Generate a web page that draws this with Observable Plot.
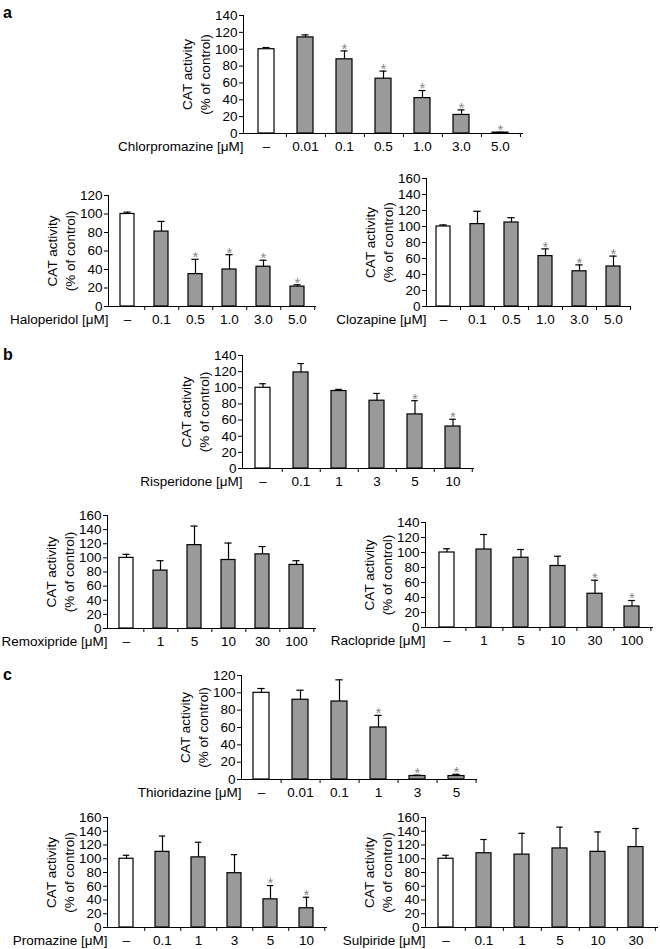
<!DOCTYPE html>
<html><head><meta charset="utf-8">
<script src="https://cdn.jsdelivr.net/npm/d3@7"></script>
<script src="https://cdn.jsdelivr.net/npm/@observablehq/plot@0.6"></script>
<style>
body{margin:0;background:#fff;}
#fig{position:relative;width:660px;height:949px;overflow:hidden;font-family:"Liberation Sans",Arial,sans-serif;background:#fff;}
.panel{position:absolute;}
.letter{position:absolute;font-weight:bold;font-size:16px;line-height:16px;font-family:"Liberation Sans",Arial,sans-serif;}
</style></head><body><div id="fig"></div>
<script>
// ---------- data ----------
const yTitle = "CAT activity\n(% of control)";

const chlorpromazineDoses = ["–","0.01","0.1","0.5","1.0","3.0","5.0"];
const chlorpromazineMean  = [100,114,88,65,42,22,1];
const chlorpromazineSD    = [2,3,10,9,9,6,0.5];
const chlorpromazineSig   = [0,0,1,1,1,1,1];

const haloperidolDoses = ["–","0.1","0.5","1.0","3.0","5.0"];
const haloperidolMean  = [100,81,35,40,43,21.5];
const haloperidolSD    = [2,11,16,16,7,2];
const haloperidolSig   = [0,0,1,1,1,1];

const clozapineDoses = ["–","0.1","0.5","1.0","3.0","5.0"];
const clozapineMean  = [100,103,105,63,44,50];
const clozapineSD    = [2,16,6,9,8,13];
const clozapineSig   = [0,0,0,1,1,1];

const risperidoneDoses = ["–","0.1","1","3","5","10"];
const risperidoneMean  = [100,119,96,84,67,52];
const risperidoneSD    = [5,11,2,9,17,9];
const risperidoneSig   = [0,0,0,0,1,1];

const remoxiprideDoses = ["–","1","5","10","30","100"];
const remoxiprideMean  = [100,82,118,97,105,90];
const remoxiprideSD    = [5,14,27,24,11,6];
const remoxiprideSig   = [0,0,0,0,0,0];

const raclopridesDoses = ["–","1","5","10","30","100"];
const raclopridesMean  = [100,104,93,82,45,28];
const raclopridesSD    = [5,20,11,13,18,8];
const raclopridesSig   = [0,0,0,0,1,1];

const thioridazineDoses = ["–","0.01","0.1","1","3","5"];
const thioridazineMean  = [100,92,90,60,4,4];
const thioridazineSD    = [5,11,25,14,1,2];
const thioridazineSig   = [0,0,0,1,1,1];

const promazineDoses = ["–","0.1","1","3","5","10"];
const promazineMean  = [100,110,102,79,41,28];
const promazineSD    = [5,23,22,27,20,16];
const promazineSig   = [0,0,0,0,1,1];

const sulpirideDoses = ["–","0.1","1","5","10","30"];
const sulpirideMean  = [100,108,106,115,110,117];
const sulpirideSD    = [5,20,31,31,29,27];
const sulpirideSig   = [0,0,0,0,0,0];

// ---------- layout (frame: left, right, top, bottom in page px) ----------
const panels = [
  {title:"Chlorpromazine [μM]", doses:chlorpromazineDoses, mean:chlorpromazineMean, sd:chlorpromazineSD, sig:chlorpromazineSig, ymax:140, frame:[243,522,15,133]},
  {title:"Haloperidol [μM]", doses:haloperidolDoses, mean:haloperidolMean, sd:haloperidolSD, sig:haloperidolSig, ymax:120, frame:[108,315,195,306]},
  {title:"Clozapine [μM]", doses:clozapineDoses, mean:clozapineMean, sd:clozapineSD, sig:clozapineSig, ymax:160, frame:[426,630,178,306]},
  {title:"Risperidone [μM]", doses:risperidoneDoses, mean:risperidoneMean, sd:risperidoneSD, sig:risperidoneSig, ymax:140, frame:[242,473,355,468]},
  {title:"Remoxipride [μM]", doses:remoxiprideDoses, mean:remoxiprideMean, sd:remoxiprideSD, sig:remoxiprideSig, ymax:160, frame:[107,315,515,628]},
  {title:"Raclopride [μM]", doses:raclopridesDoses, mean:raclopridesMean, sd:raclopridesSD, sig:raclopridesSig, ymax:140, frame:[425,652,522,627]},
  {title:"Thioridazine [μM]", doses:thioridazineDoses, mean:thioridazineMean, sd:thioridazineSD, sig:thioridazineSig, ymax:120, frame:[241,476,675,779]},
  {title:"Promazine [μM]", doses:promazineDoses, mean:promazineMean, sd:promazineSD, sig:promazineSig, ymax:160, frame:[107,326,817,927]},
  {title:"Sulpiride [μM]", doses:sulpirideDoses, mean:sulpirideMean, sd:sulpirideSD, sig:sulpirideSig, ymax:160, frame:[425,657,817,927]}
];
const letters = [["a",3,5],["b",3,347],["c",3,667]];

const ML = 140, MR = 8, MT = 12, MB = 30;
const FONT = "'Liberation Sans', Arial, Helvetica, sans-serif";
const FS = 13.5;
const fig = document.getElementById("fig");

for (const p of panels) {
  const [L, R, T, B] = p.frame;
  const W = R - L, H = B - T;
  const n = p.doses.length;
  const step = W / n;
  const bw = step * 0.4;
  const capInset = Math.max(0, (bw - 7) / 2);
  const data = p.doses.map((c, i) => ({c, v: p.mean[i], e: p.mean[i] + p.sd[i], s: p.sig[i], ctrl: i === 0}));
  const yticks = d3.range(0, p.ymax + 1, 20);
  const chart = Plot.plot({
    width: W + ML + MR, height: H + MT + MB,
    marginLeft: ML, marginRight: MR, marginTop: MT, marginBottom: MB,
    style: {background: "transparent", overflow: "visible", fontFamily: FONT, fontSize: FS + "px", maxWidth: "none", color: "black"},
    x: {type: "band", domain: p.doses, paddingInner: 0.6, paddingOuter: 0.3},
    y: {domain: [0, p.ymax]},
    marks: [
      Plot.ruleX(data, {x: "c", y1: "v", y2: "e", stroke: "black", strokeWidth: 1.2}),
      Plot.tickY(data, {x: "c", y: "e", insetLeft: capInset, insetRight: capInset, stroke: "black", strokeWidth: 1.2}),
      Plot.barY(data, {filter: d => d.ctrl, x: "c", y: "v", fill: "white", stroke: "black", strokeWidth: 1.2}),
      Plot.barY(data, {filter: d => !d.ctrl, x: "c", y: "v", fill: "#9a9a9a", stroke: "black", strokeWidth: 1.2}),
      Plot.text(data, {filter: d => d.s, x: "c", y: "e", text: () => "*", dy: -2, fill: "#888", fontSize: 15}),
      Plot.axisY({ticks: yticks, tickSize: 4, tickPadding: 2, label: null, fontSize: FS}),
      Plot.axisX({tickSize: 0, tickPadding: 8, label: null, fontSize: FS}),
      Plot.axisX({tickSize: 4, tickFormat: () => "", label: null, dx: step / 2}),
      Plot.frame({anchor: "left", stroke: "black"}),
      Plot.frame({anchor: "bottom", stroke: "black"}),
      Plot.text([p.title], {text: d => d, frameAnchor: "bottom-left", textAnchor: "end", lineAnchor: "top", dy: 8, dx: 0, fontSize: FS}),
      Plot.text([yTitle], {text: d => d, frameAnchor: "left", textAnchor: "middle", rotate: -90, dx: -48, lineHeight: 1.3, fontSize: FS})
    ]
  });
  const wrap = document.createElement("div");
  wrap.className = "panel";
  wrap.style.left = (L - ML) + "px";
  wrap.style.top = (T - MT) + "px";
  wrap.appendChild(chart);
  fig.appendChild(wrap);
}
for (const [t, x, y] of letters) {
  const d = document.createElement("div");
  d.className = "letter";
  d.textContent = t;
  d.style.left = x + "px";
  d.style.top = y + "px";
  fig.appendChild(d);
}
</script>
</body></html>
